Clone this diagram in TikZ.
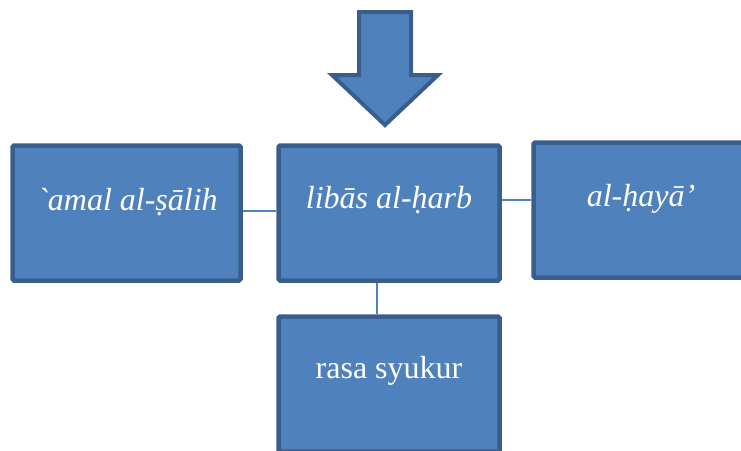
\documentclass[tikz,border=0pt]{standalone}
\usepackage{fontspec}
\newfontfamily\tnr{Liberation Serif}[ItalicFont={Liberation Serif Italic},BoldFont={Liberation Serif Bold}]
\definecolor{boxfill}{HTML}{4F81BD}
\definecolor{boxline}{HTML}{3A5E8C}
\begin{document}
\begin{tikzpicture}[x=1pt,y=-1pt,
  box/.style={draw=boxline, fill=boxfill, line width=4.5pt, rounded corners=1.5pt, inner sep=0pt, minimum width=#1, minimum height=135pt},
  lbl/.style={anchor=base, text=white, inner sep=0pt, font=\tnr\fontsize{32}{38}\selectfont},
  link/.style={draw=boxfill, line width=1.5pt}]
\useasboundingbox (0,0) rectangle (741,450);
\clip (0,0) rectangle (741,450);
% boxes
\node[box=228pt] (amal) at (126.5,213) {};
\node[box=221pt] (libas) at (389,213) {};
\node[box=215pt] (haya) at (641,210) {};
\node[box=221pt] (rasa) at (389,384) {};
% connectors
\draw[link] (amal.east |- 0,211) -- (libas.west |- 0,211);
\draw[link] (libas.east |- 0,200) -- (haya.west |- 0,200);
\draw[link] (libas.south -| 377,0) -- (rasa.north -| 377,0);
% big arrow
\draw[draw=boxline, fill=boxfill, line width=4pt, line join=miter]
  (359,12) -- (411,12) -- (411,75) -- (438,75) -- (385,125) -- (332,75) -- (359,75) -- cycle;
% labels
\node[lbl] (tamal) at (127.5,210) {\itshape `amal al-ṣālih};
\node[lbl] (tlibas) at (389,208) {\itshape libās al-ḥarb};
\node[lbl] (thaya) at (641,206) {\itshape al-ḥayā’};
\node[lbl] (trasa) at (389,378) {rasa syukur};
\end{tikzpicture}
\end{document}
